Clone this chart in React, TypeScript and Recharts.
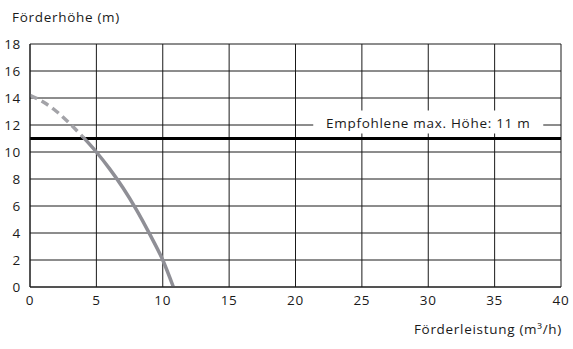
import React from "react";
import {
  ComposedChart,
  Line,
  XAxis,
  YAxis,
  CartesianGrid,
  ReferenceLine,
} from "recharts";

const xTicks = [0, 5, 10, 15, 20, 25, 30, 35, 40];
const yTicks = [0, 2, 4, 6, 8, 10, 12, 14, 16, 18];

// Förderleistung (m³/h) vs. Förderhöhe (m)
const dashedFlow = [0, 1, 2, 3, 4];
const dashedHead = [14.2, 13.7, 13.0, 12.1, 11.1];
const solidFlow = [4, 5, 6, 7, 8, 9, 10, 10.8];
const solidHead = [11.1, 10.0, 8.75, 7.35, 5.75, 3.95, 2.0, 0];

const maxHead = 11;
const maxHeadLabel = "Empfohlene max. Höhe: 11 m";

const FONT = "'Open Sans', Lato, sans-serif";
const INK = "#1a1a1a";
const LS = "0.7px";
const FS = 13.5;

const dashedData = dashedFlow.map((q, i) => ({ q, h: dashedHead[i] }));
const solidData = solidFlow.map((q, i) => ({ q, h: solidHead[i] }));

const MaxLabel = (props: any) => {
  const { viewBox } = props;
  if (!viewBox) return null;
  const cx = viewBox.x + viewBox.width * 0.75;
  const y = viewBox.y - 28;
  return (
    <g>
      <rect x={cx - 115} y={y} width={230} height={23} fill="#fff" />
      <text
        x={cx}
        y={y + 12}
        textAnchor="middle"
        dominantBaseline="central"
        fontFamily={FONT}
        fontSize={FS}
        letterSpacing={LS}
        fill={INK}
      >
        {maxHeadLabel}
      </text>
    </g>
  );
};

export default function App() {
  return (
    <div
      style={{
        position: "absolute",
        left: 0,
        top: 0,
        width: 573,
        height: 349,
        background: "#fff",
        fontFamily: FONT,
      }}
    >
      <div
        style={{
          position: "absolute",
          left: 12,
          top: 8,
          fontSize: FS,
          letterSpacing: LS,
          color: INK,
        }}
      >
        Förderhöhe (m)
      </div>
      <ComposedChart
        width={573}
        height={349}
        margin={{ top: 44, right: 12, bottom: 32, left: 0 }}
      >
        <CartesianGrid stroke={INK} strokeWidth={1} />
        <XAxis
          type="number"
          dataKey="q"
          domain={[0, 40]}
          ticks={xTicks}
          height={30}
          tickLine={false}
          axisLine={{ stroke: INK }}
          tick={{ fill: INK, fontSize: FS, fontFamily: FONT, letterSpacing: LS }}
          allowDataOverflow
        />
        <YAxis
          type="number"
          domain={[0, 18]}
          ticks={yTicks}
          width={30}
          tickLine={false}
          tickMargin={3}
          axisLine={{ stroke: INK }}
          tick={{ fill: INK, fontSize: FS, fontFamily: FONT, letterSpacing: LS }}
        />
        <ReferenceLine
          y={maxHead}
          stroke="#000"
          strokeWidth={3}
          label={<MaxLabel />}
        />
        <Line
          data={dashedData}
          dataKey="h"
          type="monotone"
          stroke="#a3a3a8"
          strokeWidth={3.5}
          strokeDasharray="8 5"
          dot={false}
          isAnimationActive={false}
        />
        <Line
          data={solidData}
          dataKey="h"
          type="monotone"
          stroke="#8f8f96"
          strokeWidth={3.5}
          dot={false}
          isAnimationActive={false}
        />
      </ComposedChart>
      <div
        style={{
          position: "absolute",
          right: 11,
          top: 320,
          fontSize: FS,
          letterSpacing: LS,
          color: INK,
        }}
      >
        Förderleistung (m³/h)
      </div>
    </div>
  );
}
